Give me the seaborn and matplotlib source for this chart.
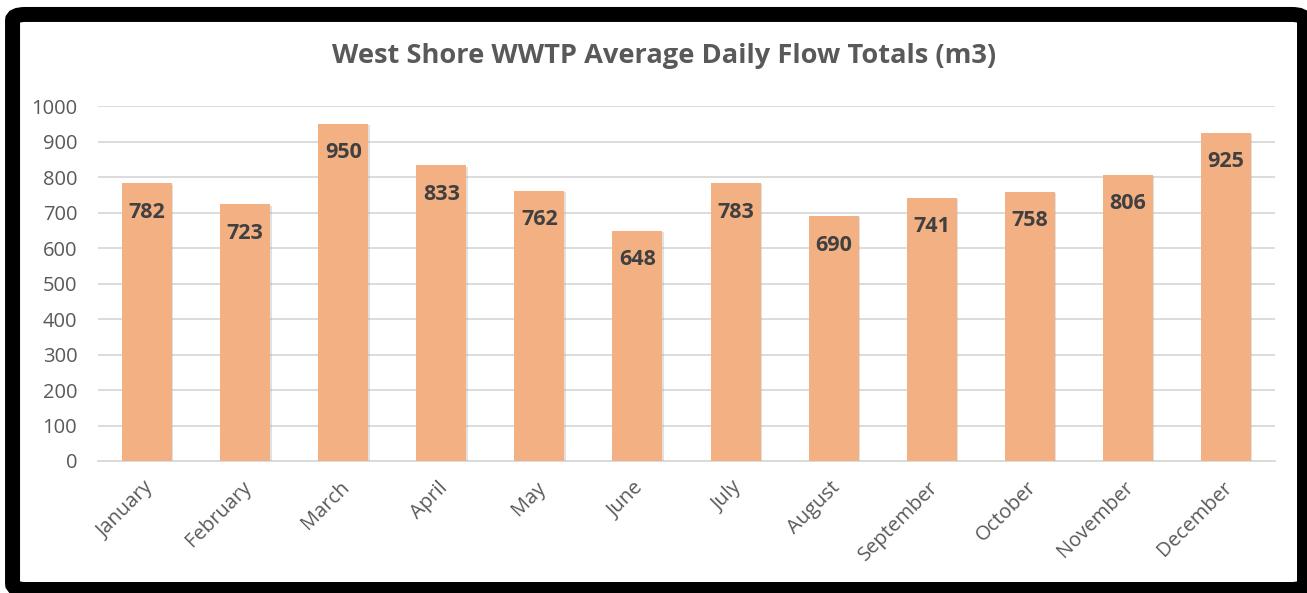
import matplotlib
matplotlib.use("Agg")
import matplotlib.pyplot as plt
import matplotlib.patches as mpatches
import matplotlib.patheffects as pe
import matplotlib.transforms as mtrans
import seaborn as sns
import pandas as pd

months = ["January", "February", "March", "April", "May", "June",
          "July", "August", "September", "October", "November", "December"]
flow = [782, 723, 950, 833, 762, 648, 783, 690, 741, 758, 806, 925]

df = pd.DataFrame({"month": months, "flow": flow})

sns.set_style("white")
plt.rcParams["font.family"] = ["Open Sans", "DejaVu Sans"]

fig = plt.figure(figsize=(13.07, 5.93), dpi=100)
ax = fig.add_axes([0.075, 0.2226, 0.9005, 0.5986])

sns.barplot(data=df, x="month", y="flow", color="#F3B183", saturation=1,
            width=0.51, linewidth=0, ax=ax, zorder=3)

# soft shadow like the spreadsheet bars
for p in ax.patches:
    p.set_path_effects([pe.SimplePatchShadow(offset=(1, -1), shadow_rgbFace="#aaaaaa", alpha=0.35),
                        pe.Normal()])

for i, v in enumerate(flow):
    ax.annotate(str(v), xy=(i, v), xytext=(0, -29), textcoords="offset pixels",
                ha="center", va="center", fontsize=15.5, fontweight="bold",
                color="#404040", zorder=4)

ax.set_ylim(0, 1000)
ax.set_xlim(-0.5, 11.5)
ax.set_yticks(range(0, 1001, 100))
ax.yaxis.grid(True, color="#D9D9D9", linewidth=1.3, zorder=0)
ax.set_axisbelow(True)
for s in ["top", "right", "left"]:
    ax.spines[s].set_visible(False)
ax.spines["bottom"].set_color("#D9D9D9")
ax.spines["bottom"].set_linewidth(1.3)
ax.tick_params(axis="y", length=0, labelsize=14.5, labelcolor="#595959", pad=15)
ax.tick_params(axis="x", length=0, labelsize=14.5, labelcolor="#595959", pad=12)
ax.set_xlabel("")
ax.set_ylabel("")
shift = mtrans.ScaledTranslation(-4 / 100, 0, fig.dpi_scale_trans)
for lbl in ax.get_xticklabels():
    lbl.set_rotation(45)
    lbl.set_ha("right")
    lbl.set_rotation_mode("anchor")
    lbl.set_transform(lbl.get_transform() + shift)

fig.text(0.508, 0.9056, "West Shore WWTP Average Daily Flow Totals (m3)",
         ha="center", va="center", fontsize=19.6, fontweight="bold", color="#595959")

frame = mpatches.FancyBboxPatch((0.0096, 0.0059), 0.9885, 0.9697,
                                boxstyle="round,pad=0,rounding_size=0.01",
                                transform=fig.transFigure, fill=False,
                                edgecolor="black", linewidth=10.8, zorder=10)
fig.patches.append(frame)

fig.savefig("out.png", dpi=100)
